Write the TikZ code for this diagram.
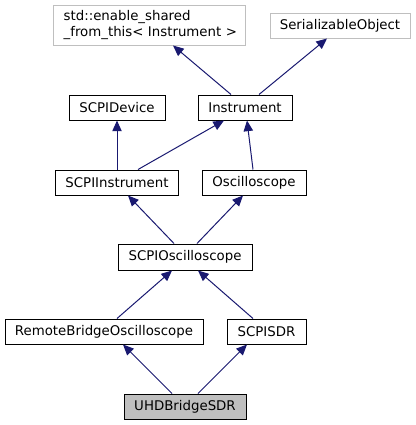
\documentclass[tikz,border=0pt]{standalone}
\usepackage{fontspec}
\setmainfont{DejaVu Sans}
\usetikzlibrary{arrows.meta,calc}
\definecolor{edgeblue}{HTML}{191970}
\definecolor{grey75}{HTML}{BFBFBF}
\begin{document}
\begin{tikzpicture}[x=0.75pt,y=-0.75pt,
  cls/.style={draw=black,line width=0.75pt,inner sep=0pt,minimum height=18.75pt,font=\fontsize{10}{12}\selectfont,text=black},
  ext/.style={cls,draw=grey75},
  cur/.style={cls,fill=grey75},
  edge/.style={draw=edgeblue,line width=0.75pt,-{Triangle[length=8pt,width=7pt,fill=edgeblue]}}]
\useasboundingbox (0,0) rectangle (415,425);
\node[ext,minimum width=144pt,minimum height=30pt,align=left,text width=134pt] (esft) at (149,25) {\hspace*{3pt}std::enable\_shared\\\hspace*{3pt}\_from\_this\textless{} Instrument \textgreater{}};
\node[ext,minimum width=105pt] (ser) at (340,25.5) {SerializableObject};
\node[cls,minimum width=72pt] (dev) at (117,107.5) {SCPIDevice};
\node[cls,minimum width=70.5pt] (inst) at (245,107.5) {Instrument};
\node[cls,minimum width=92.25pt] (scpii) at (117,182.5) {SCPIInstrument};
\node[cls,minimum width=78pt] (osc) at (254,182.5) {Oscilloscope};
\node[cls,minimum width=100.5pt,minimum height=19.5pt] (scpio) at (185,257) {SCPIOscilloscope};
\node[cls,minimum width=148.5pt] (rbo) at (104,331.5) {RemoteBridgeOscilloscope};
\node[cls,minimum width=59.25pt] (sdr) at (266.5,331.5) {SCPISDR};
\node[cur,minimum width=91.5pt] (uhd) at (185,406.5) {UHDBridgeSDR};
\draw[edge] ($(inst.north)+(-14,0)$) -- ($(esft.south)+(24,0)$);
\draw[edge] ($(inst.north)+(14,0)$) -- ($(ser.south)+(-13,0)$);
\draw[edge] (scpii.north) -- (dev.south);
\draw[edge] ($(scpii.north)+(21,0)$) -- ($(inst.south)+(-21,0)$);
\draw[edge] ($(osc.north)+(-1,0)$) -- ($(inst.south)+(2,0)$);
\draw[edge] ($(scpio.north)+(-11,0)$) -- ($(scpii.south)+(11,0)$);
\draw[edge] ($(scpio.north)+(12,0)$) -- ($(osc.south)+(-11,0)$);
\draw[edge] ($(rbo.north)+(13,0)$) -- ($(scpio.south)+(-13,0)$);
\draw[edge] ($(sdr.north)+(-13.5,0)$) -- ($(scpio.south)+(13,0)$);
\draw[edge] ($(uhd.north)+(-13,0)$) -- ($(rbo.south)+(19,0)$);
\draw[edge] ($(uhd.north)+(13,0)$) -- ($(sdr.south)+(-19.5,0)$);
\end{tikzpicture}
\end{document}
